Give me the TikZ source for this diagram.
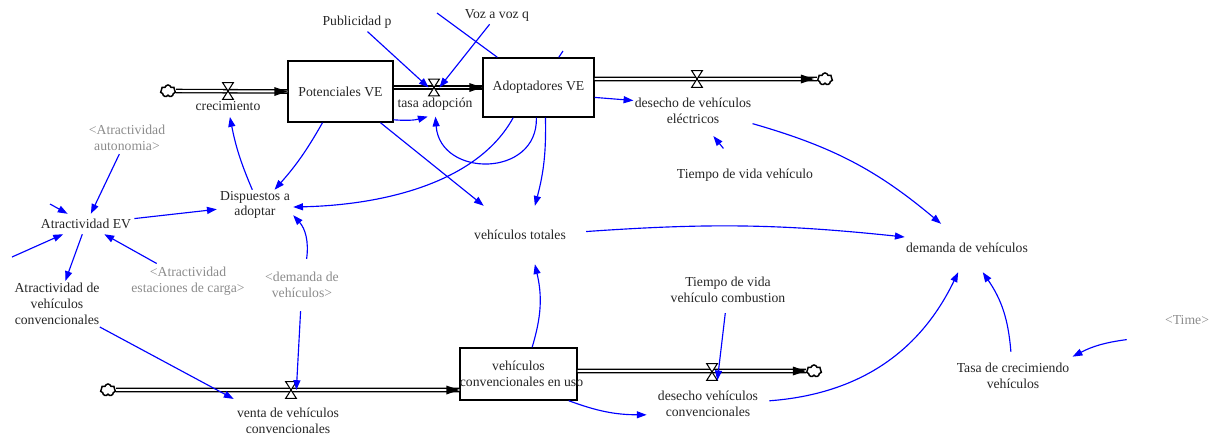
\documentclass[tikz,border=0pt]{standalone}
\usepackage{fontspec}
\setmainfont{Liberation Serif}
\usetikzlibrary{arrows.meta,shapes.symbols,calc}

\tikzset{
  lbl/.style={font=\fontsize{7.8}{9}\selectfont, text=black!85, align=center, inner sep=0.06cm},
  shadowvar/.style={lbl, text=black!45},
  stock/.style={lbl, draw=black, line width=0.8pt, fill=white},
  conn/.style={draw=blue, line width=0.65pt, -{Triangle[length=5.6pt,width=4pt]}},
  link/.style={draw=blue, line width=0.65pt},
  pipe/.style={draw=black, line width=0.75pt, double=white, double distance=1.1pt},
  valvebox/.style={inner sep=0pt, minimum width=0.2cm, minimum height=0.32cm},
  source/.style={cloud, cloud puffs=7, aspect=1.3, draw=black, line width=0.85pt,
    fill=white, inner sep=0pt, minimum width=0.3cm, minimum height=0.24cm},
}

% filled head at the downstream end of a flow pipe
\newcommand\flowtip[1]{\fill[black] (#1) -- ++(-13,-4.5) -- ++(0,9) -- cycle;}
% flow valve: hourglass drawn inside an empty node
\newcommand\valveat[2]{%
  \node[valvebox] (#1) at (#2) {};
  \filldraw[fill=white, draw=black, line width=0.6pt]
    (#1.north west) -- (#1.north east) -- (#1.south west) -- (#1.south east) -- cycle;}

\begin{document}
\begin{tikzpicture}[x=0.02cm, y=-0.02cm]
\useasboundingbox (0,0) rectangle (1212,437);

% sources, sinks and stocks
\node[source] (cl1) at (168,91) {};
\node[stock, minimum width=2.1cm, minimum height=1.22cm] (pot) at (340.5,91.5) {Potenciales VE};
\node[stock, minimum width=2.22cm, minimum height=1.18cm] (adop) at (538.5,87.5) {Adoptadores VE};
\node[source] (cl2) at (825,79) {};
\node[source] (cl3) at (108,390) {};
\node[stock, minimum width=2.34cm, minimum height=1.04cm] (conv) at (518.5,374)
  {vehículos\\\makebox[0pt]{\hspace{0.12cm}convencionales en uso}};
\node[source] (cl4) at (814,371) {};

% auxiliaries and flow names
\node[lbl] (pub) at (357,22) {Publicidad p};
\node[lbl] (voz) at (497,15) {Voz a voz q};
\node[lbl, inner ysep=0.12cm] (crec) at (228,106) {crecimiento};
\node[lbl, inner xsep=0.04cm, inner ysep=0.12cm] (tasa) at (435,104) {tasa adopción};
\node[lbl, inner xsep=0.02cm, inner ysep=0.24cm] (desve) at (693,111) {desecho de vehículos\\eléctricos};
\node[lbl, inner ysep=0.4cm] (tvv) at (745,175) {Tiempo de vida vehículo};
\node[shadowvar] (aaut) at (127,138) {<Atractividad\\autonomia>};
\node[lbl, inner ysep=0.02cm] (disp) at (255,205) {Dispuestos a\\adoptar};
\node[lbl, inner ysep=0.1cm] (aev) at (86,224) {Atractividad EV};
\node[lbl, inner sep=0.04cm] (avc) at (57,304) {Atractividad de\\vehículos\\convencionales};
\node[shadowvar] (aest) at (188,281) {<Atractividad\\estaciones de carga>};
\node[shadowvar, inner ysep=0.26cm] (dem2) at (302,285) {<demanda de\\vehículos>};
\node[lbl, inner xsep=0.4cm, inner ysep=0.48cm] (vtot) at (520,235) {vehículos totales};
\node[lbl, inner xsep=0.02cm, inner ysep=0.38cm] (dem) at (967,248) {demanda de vehículos};
\node[shadowvar, inner xsep=0.76cm, inner ysep=0.32cm] (time) at (1187,320) {<Time>};
\node[lbl, inner ysep=0.22cm] (tasac) at (1013,376) {Tasa de crecimiendo\\vehículos};
\node[lbl, inner ysep=0.2cm] (tvc) at (728,290) {Tiempo de vida\\vehículo combustion};
\node[lbl, inner ysep=0.18cm] (venta) at (288,421) {venta de vehículos\\convencionales};
\node[lbl, inner xsep=0.22cm, inner ysep=0.08cm] (dvc) at (708,404) {desecho vehículos\\convencionales};

% free ends of links that leave the view
\coordinate (s1) at (437,13);
\coordinate (s2) at (563,51);
\coordinate (s3) at (50,204);
\coordinate (s4) at (12,257);

% flow pipes
\draw[pipe] (cl1.east) -- (pot.west);
\flowtip{pot.west}
\draw[pipe] (pot.east |- adop.west) -- (adop.west);
\flowtip{adop.west}
\draw[pipe] (adop.east |- cl2) -- (cl2.west);
\flowtip{$(cl2.west)+(-3,0)$}
\draw[pipe] (cl3.east) -- (conv.west |- cl3);
\flowtip{conv.west |- cl3}
\draw[pipe] (conv.east |- cl4) -- (cl4.west);
\flowtip{cl4.west}

% valves
\valveat{v1}{228,91}
\valveat{v2}{434,87.5}
\valveat{v3}{697,79}
\valveat{v4}{291,390}
\valveat{v5}{712,372}

% information links
\draw[conn] (pub) -- (v2.west);
\draw[conn] (voz) -- (v2.east);
\draw[link] (s1) -- (adop);
\draw[link] (s2) -- (adop);
\draw[conn] (pot.-28) to[bend right=10] (tasa.-120);
\draw[conn] (adop.-94) .. controls (538,178) and (440,178) .. (tasa.-88);
\draw[conn] (adop.-130) .. controls (478,182) and (385,205) .. (disp.-3);
\draw[conn] (adop.-77) to[bend left=8] (vtot.63);
\draw[conn] (pot.-38) -- (vtot);
\draw[conn] (pot.-120) to[bend left=6] (disp.38);
\draw[conn] (disp.100) to[bend left=6] (crec.-80);
\draw[conn] (aev) -- (disp);
\draw[conn] (aaut) -- (aev);
\draw[conn] (s3) -- (aev);
\draw[conn] (s4) -- (aev);
\draw[conn] (aev) -- (avc);
\draw[conn] (aest) -- (aev);
\draw[conn] (dem2.80) to[bend right=25] (disp.-15);
\draw[conn] (dem2) -- (v4.east);
\draw[conn] (avc) -- (venta.north west);
\draw[conn] (conv.63) to[bend right=15] (vtot.-63);
\draw[conn] (vtot.3) to[bend left=5] (dem.170);
\draw[conn] (adop.-10) -- (desve.170);
\draw[conn] (tvv) -- (desve);
\draw[conn] (desve.-12) to[bend left=12] (dem.137);
\draw[conn] (dvc.3) to[bend right=30] (dem.-110);
\draw[conn] (tasac.95) to[bend right=15] (dem.-57);
\draw[conn] (time.-162) to[bend right=10] (tasac.18);
\draw[conn] (tvc) -- (v5.south east);
\draw[conn] (conv.-28) to[bend right=10] (dvc.-170);
\end{tikzpicture}
\end{document}
